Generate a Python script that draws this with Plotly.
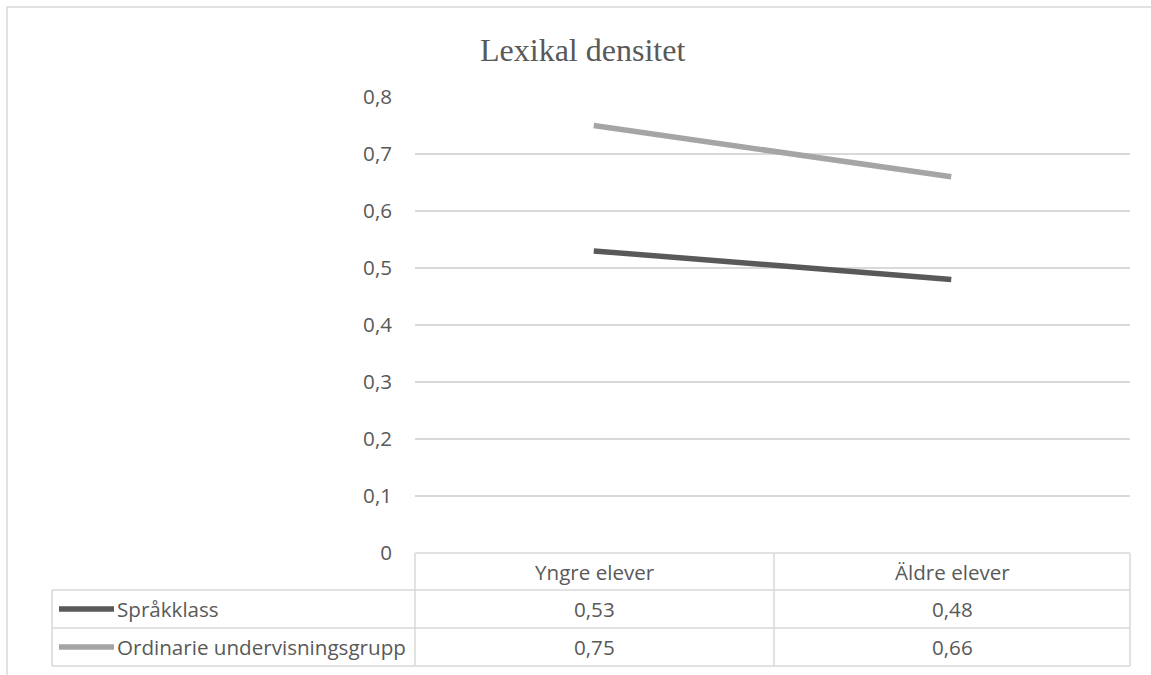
import plotly.graph_objects as go

# ---- data ----
categories = ["Yngre elever", "Äldre elever"]
series_names = ["Språkklass", "Ordinarie undervisningsgrupp"]
sprakklass = [0.53, 0.48]
ordinarie = [0.75, 0.66]
series_values = [sprakklass, ordinarie]
series_colors = ["#595959", "#A5A5A5"]
title_text = "Lexikal densitet"

W, H = 1151, 675
PL, PR, PT, PB = 415, 1130, 97, 553  # plot area pixel box


def px(x):
    return (x - PL) / (PR - PL)


def py(y):
    return (PB - y) / (PB - PT)


fig = go.Figure()
for name, vals, col in zip(series_names, series_values, series_colors):
    fig.add_trace(go.Scatter(x=categories, y=vals, mode="lines", name=name,
                             line=dict(color=col, width=5.5), showlegend=False))

grid = "#D9D9D9"
txt = "#595959"
font_main = "Open Sans"
FS = 20.6

shapes = []
annotations = []


def hline(y, x0, x1, w=1.5):
    shapes.append(dict(type="line", xref="paper", yref="paper",
                       x0=px(x0), x1=px(x1), y0=py(y), y1=py(y),
                       line=dict(color=grid, width=w)))


def vline(x, y0, y1, w=1.5):
    shapes.append(dict(type="line", xref="paper", yref="paper",
                       x0=px(x), x1=px(x), y0=py(y0), y1=py(y1),
                       line=dict(color=grid, width=w)))


# outer chart border
shapes.append(dict(type="rect", xref="paper", yref="paper",
                   x0=px(7), x1=px(1200), y0=py(7), y1=py(720),
                   line=dict(color=grid, width=1.5), fillcolor="rgba(0,0,0,0)",
                   layer="below"))

# data table grid
row_y = [553, 590, 628, 666]
col_x = [PL, 774, PR]
left_x = 52
hline(row_y[0], PL, PR)
for y in row_y[1:]:
    hline(y, left_x, PR)
for x in col_x:
    vline(x, row_y[0], row_y[-1])
vline(left_x, row_y[1], row_y[-1])

# header
for i, c in enumerate(categories):
    cx = (col_x[i] + col_x[i + 1]) / 2
    annotations.append(dict(xref="paper", yref="paper", x=px(cx),
                            y=py((row_y[0] + row_y[1]) / 2), text=c,
                            showarrow=False, xanchor="center", yanchor="middle",
                            font=dict(family=font_main, size=FS, color=txt)))

# rows
for r, (name, vals, col) in enumerate(zip(series_names, series_values, series_colors)):
    cy = (row_y[r + 1] + row_y[r + 2]) / 2
    shapes.append(dict(type="line", xref="paper", yref="paper",
                       x0=px(59), x1=px(114), y0=py(cy), y1=py(cy),
                       line=dict(color=col, width=5.5)))
    annotations.append(dict(xref="paper", yref="paper", x=px(115), y=py(cy),
                            text=name, showarrow=False, xanchor="left",
                            yanchor="middle",
                            font=dict(family=font_main, size=FS, color=txt)))
    for i, v in enumerate(vals):
        cx = (col_x[i] + col_x[i + 1]) / 2
        annotations.append(dict(xref="paper", yref="paper", x=px(cx), y=py(cy),
                                text=f"{v:.2f}".replace(".", ","),
                                showarrow=False, xanchor="center",
                                yanchor="middle",
                                font=dict(family=font_main, size=FS, color=txt)))

# title
annotations.append(dict(xref="paper", yref="paper", x=px(582), y=py(50),
                        text=title_text, showarrow=False, xanchor="center",
                        yanchor="middle",
                        font=dict(family="Liberation Serif", size=32, color=txt)))

fig.update_layout(
    width=W, height=H,
    margin=dict(l=PL, r=W - PR, t=PT, b=H - PB, pad=0),
    paper_bgcolor="white", plot_bgcolor="white",
    separators=",.",
    shapes=shapes, annotations=annotations,
    xaxis=dict(range=[-0.5, 1.5], showticklabels=False, showgrid=False,
               zeroline=False, showline=False, fixedrange=True),
    yaxis=dict(range=[0, 0.8], dtick=0.1, tick0=0, showgrid=True,
               gridcolor=grid, gridwidth=1.5, zeroline=False, showline=False,
               ticks="", ticklabelstandoff=22,
               tickfont=dict(family=font_main, size=FS, color=txt)),
)

fig.write_html("out.html")
